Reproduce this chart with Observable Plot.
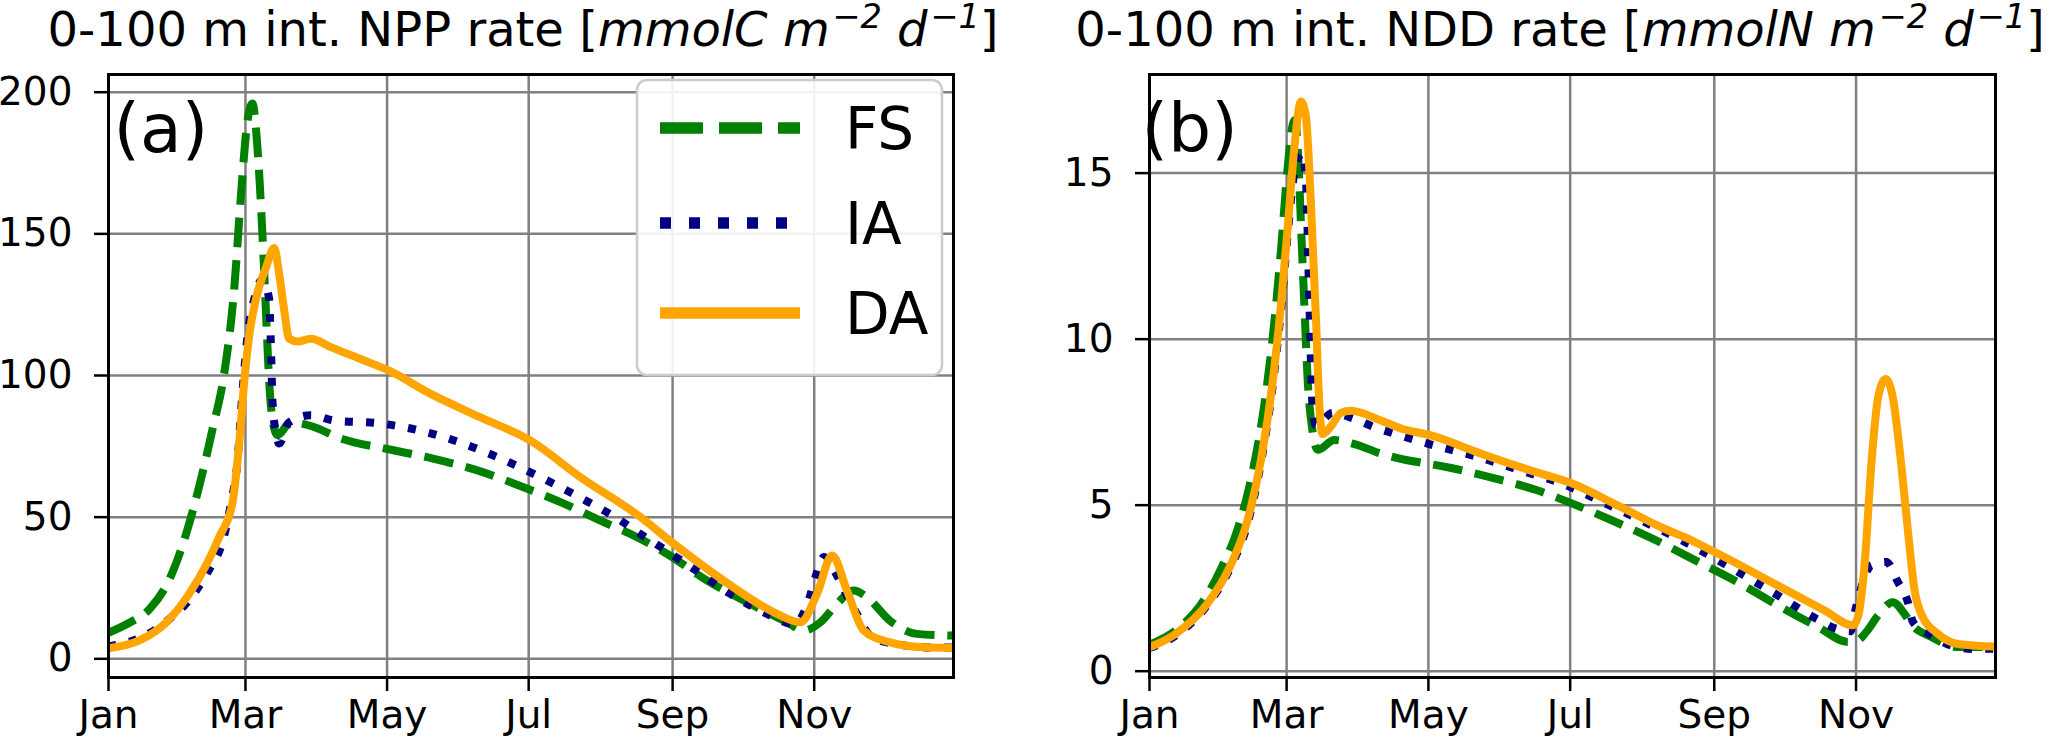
<!DOCTYPE html>
<html lang="en">
<head>
<meta charset="utf-8">
<title>0-100 m integrated NPP and NDD rates</title>
<script src="https://cdn.jsdelivr.net/npm/d3@7"></script>
<script src="https://cdn.jsdelivr.net/npm/@observablehq/plot@0.6"></script>
<style>
  body { margin: 0; background: white; }
  #figure { display: flex; width: 2067px; height: 739px; font-family: 'DejaVu Sans', sans-serif; color: black; }
  .panel { position: relative; }
  .title {
    position: absolute; top: 3px; left: 0; height: 53px; line-height: 53px;
    font-size: 48px; text-align: center; white-space: nowrap;
  }
  .title sup { font-size: 0.7em; vertical-align: 0.55em; line-height: 0; margin-left: 0.08em; }
  .plot { position: absolute; top: 56px; left: 0; }
</style>
</head>
<body>
<div id="figure"></div>
<script>

// month ticks (day of year)
const months = ["Jan", "Mar", "May", "Jul", "Sep", "Nov"];
const monthDays = [0, 59, 120, 181, 243, 304];

const seriesNames = ["FS", "IA", "DA"];
const seriesColors = ["green", "navy", "orange"];
const seriesDash = ["29.6,12.8", "8,13.2", "none"];

// (a) NPP, mmolC m-2 d-1 : [day, value]
const nppTicks = [0, 50, 100, 150, 200];
const nppFS = [[0,9.2],[9,12.7],[17.6,17.5],[26.2,28],[33.4,44],[39.1,61],[44.8,81],[49.9,101],[54.2,131],[57,163],[59.9,190],[62,196],[64.2,180],[66.3,150],[67.8,123],[69.2,98],[70.7,84],[72.8,79],[78.5,83.5],[87.9,82],[99.3,78],[122.3,73.7],[140.2,70.6],[158.9,66.5],[176.8,61.2],[194.7,55.3],[211.9,48.8],[229.2,42.3],[240.7,37],[257.9,27.6],[275.1,20],[292.3,12.9],[299.5,10],[306.7,12.9],[313.8,19.4],[321,24.1],[326.7,21.7],[336.7,13.4],[348.2,8.8],[364,8.2]];
const nppIA = [[0,4.4],[17.6,9],[26.2,14],[33.4,19.5],[39.1,25.7],[44.1,32.6],[48.4,39.5],[52.7,54.6],[55.6,70],[57.7,94],[59.9,114],[62.8,127],[66.3,134],[69.2,127],[69.9,112],[70.7,90],[72.1,80],[73.5,76],[77.8,83.5],[87.1,86],[97.2,84.1],[115.8,83.2],[133.8,80.6],[152.4,76.1],[170.3,70.2],[187.6,63.5],[204.1,56.5],[220.6,48.8],[229.2,44],[236.3,40.3],[252.1,31.7],[267.9,22.9],[285.1,15.3],[295.2,12.2],[301.6,20.6],[304.5,28.8],[308.1,35.9],[313.8,29.4],[318.1,22.3],[322.4,15.8],[327.4,8.8],[335.3,5.8],[355.4,4],[364,4]];
const nppDA = [[0,3.7],[13.3,6.5],[24.7,12.7],[34.8,23],[42,33],[47.7,43],[53.4,55],[56.3,76],[58.5,98],[60.6,114],[63.5,127],[67.8,138],[71.4,145],[73.5,136],[75.7,123],[77.8,113],[81.4,112],[87.2,113],[95.8,110],[110.1,105.3],[120.9,101.7],[138.8,93.5],[160.3,85.2],[181.8,77],[203.3,64.1],[229.2,50],[243.5,40.6],[265,27.6],[286.5,16.5],[298,12.9],[305.2,22.9],[311.7,36.5],[318.1,24.1],[325.3,10],[336.7,5.8],[351,4.1],[364,3.9]];

// (b) NDD, mmolN m-2 d-1 : [day, value]
const nddTicks = [0, 5, 10, 15];
const nddFS = [[0,0.8],[10.7,1.2],[23.6,2.16],[30.8,3.09],[37.9,4.27],[44.4,6.02],[49.4,8.02],[53.7,10.5],[56.6,12.7],[59.5,15.2],[61.6,16.45],[62.5,16.6],[63.8,15.75],[65.2,13.4],[66.6,11.06],[68.1,8.72],[70.2,7.2],[72.4,6.67],[79.5,6.96],[88.2,6.84],[99.6,6.55],[105.4,6.44],[129.8,6.12],[148.4,5.81],[167.1,5.44],[185,4.96],[202.3,4.44],[219.4,3.89],[235.9,3.3],[253.1,2.68],[270.4,1.98],[287.6,1.33],[300.5,0.88],[304.8,0.93],[308.4,1.18],[313.5,1.68],[319.8,2.08],[324.8,1.73],[327.7,1.43],[336.4,1.03],[347.8,0.73],[364,0.73]];
const nddIA = [[0,0.7],[10.7,1.05],[25,2.0],[35,3.15],[42,4.4],[48,6.3],[53,8.6],[56.6,10.9],[59.5,13.2],[62.3,15.0],[65.6,15.6],[67.3,14.8],[68.8,11.06],[70.2,7.9],[71.5,7.4],[78.8,7.78],[88,7.6],[96.8,7.35],[105.4,7.15],[124,6.77],[141.9,6.44],[159.9,6.04],[177.8,5.64],[195,5.09],[212.3,4.52],[229.5,3.92],[238.1,3.6],[254.6,2.93],[270.4,2.28],[286.9,1.58],[295.5,1.28],[301.5,1.2],[304,1.93],[310.6,3.19],[317,3.29],[322,2.69],[326.3,2.08],[328.5,1.48],[336.4,1.08],[345,0.77],[355,0.67],[364,0.68]];
const nddDA = [[0,0.72],[10.7,1.1],[25,2.04],[35,3.21],[42,4.5],[48,6.38],[53,8.72],[56.6,11.06],[59.5,13.4],[62.3,15.75],[65.2,17.16],[67.3,16.7],[69.5,14.0],[71.7,10.5],[73,8.13],[74.5,7.14],[78,7.37],[82.4,7.78],[86.7,7.84],[99.6,7.55],[108.2,7.31],[121.1,7.1],[142.7,6.55],[164.2,6.04],[182.4,5.64],[200.1,5.04],[221.6,4.29],[233,3.95],[241.7,3.64],[247.4,3.44],[269,2.63],[290.5,1.83],[302.6,1.38],[304.8,1.63],[307.7,3.24],[310.6,6.25],[313.5,8.25],[316.7,8.8],[319.8,8.25],[323.4,6.25],[326.3,4.24],[329.2,2.43],[332.1,1.72],[339.3,1.12],[347.8,0.82],[364,0.74]];

const grid = {stroke: "#808080", strokeOpacity: 1, strokeWidth: 2.5};

function panel(opts) {
  const div = d3.select("#figure").append("div")
    .attr("class", "panel")
    .style("width", opts.width + "px")
    .style("height", "739px");

  // title centred on opts.titleCenter (box kept wider than the text)
  div.append("div")
    .attr("class", "title")
    .style("width", (2 * opts.titleCenter) + "px")
    .html(opts.title);

  const lines = opts.series.map((pts, i) =>
    Plot.line(pts, {
      x: d => d[0], y: d => d[1], curve: "monotone-x",
      stroke: seriesColors[i], strokeWidth: 8,
      strokeDasharray: seriesDash[i], strokeLinecap: "butt"
    }));

  const chart = Plot.plot({
    width: opts.width, height: 683,
    marginLeft: opts.ml, marginRight: opts.mr, marginTop: 18, marginBottom: 62,
    style: {fontFamily: "'DejaVu Sans', sans-serif", fontSize: "39px", color: "black", background: "white", overflow: "visible"},
    x: {domain: [0, 364]},
    y: {domain: opts.yDomain},
    marks: [
      Plot.gridX(monthDays, grid),
      Plot.gridY(opts.yTicks, grid),
      ...lines,
      Plot.frame({stroke: "black", strokeWidth: 3}),
      Plot.axisX(monthDays, {tickFormat: d => months[monthDays.indexOf(d)], tickSize: 14, tickPadding: 9, strokeWidth: 2.5, fontSize: 39}),
      Plot.axisY(opts.yTicks, {tickSize: 14, tickPadding: 22, strokeWidth: 2.5, fontSize: 39}),
      Plot.text([opts.label], {text: d => d, frameAnchor: "top-left", textAnchor: "start", lineAnchor: "middle", dx: opts.labelDx, dy: 56, fontSize: 68})
    ]
  });
  div.append(() => chart).attr("class", "plot");

  if (opts.legend) {
    const g = d3.select(chart).append("g").attr("text-anchor", "start");
    g.append("rect")
      .attr("x", 637).attr("y", 24).attr("width", 305).attr("height", 295).attr("rx", 10)
      .attr("fill", "white").attr("fill-opacity", 0.9)
      .attr("stroke", "#cccccc").attr("stroke-width", 2.5);
    const rows = [72, 167, 257];
    seriesNames.forEach((name, i) => {
      g.append("line")
        .attr("x1", 660).attr("x2", 800).attr("y1", rows[i]).attr("y2", rows[i])
        .attr("stroke", seriesColors[i]).attr("stroke-width", 11.5)
        .attr("stroke-dasharray", i === 0 ? "43,16" : i === 1 ? "11,18" : null);
      g.append("text")
        .attr("x", 845).attr("y", rows[i]).attr("dy", "0.36em")
        .attr("font-size", 58).attr("fill", "black")
        .text(name);
    });
  }
}

panel({
  width: 1033, ml: 108, mr: 80, titleCenter: 523,
  title: "0-100 m int. NPP rate [<i>mmolC m<sup>−2</sup> d<sup>−1</sup></i>]",
  label: "(a)", labelDx: 5,
  series: [nppFS, nppIA, nppDA],
  yDomain: [-6.6, 206.25], yTicks: nppTicks,
  legend: true
});

panel({
  width: 1034, ml: 116, mr: 72, titleCenter: 527,
  title: "0-100 m int. NDD rate [<i>mmolN m<sup>−2</sup> d<sup>−1</sup></i>]",
  label: "(b)", labelDx: -8,
  series: [nddFS, nddIA, nddDA],
  yDomain: [-0.19, 17.97], yTicks: nddTicks,
  legend: false
});

</script>
</body>
</html>
